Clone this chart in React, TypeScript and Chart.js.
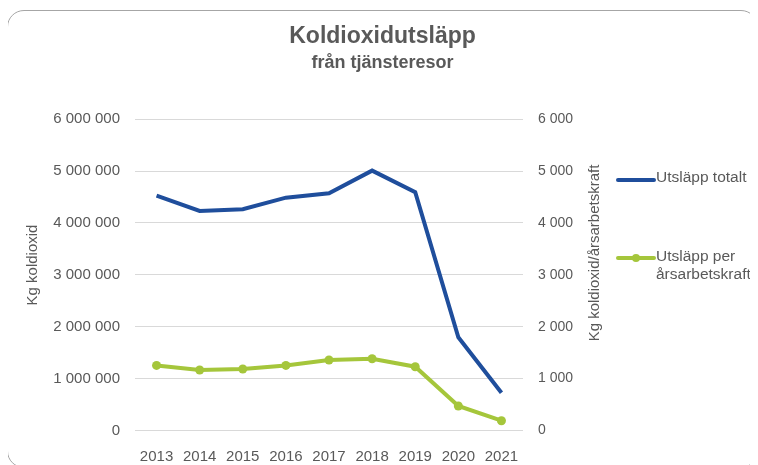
import React, { useEffect, useRef } from "react";
import { Chart, registerables } from "chart.js";

Chart.register(...registerables);

const years = ["2013", "2014", "2015", "2016", "2017", "2018", "2019", "2020", "2021"];
const totalEmissions = [4527000, 4232000, 4265000, 4488000, 4573000, 5009000, 4592000, 1797000, 729000];
const perWorker = [1255, 1166, 1185, 1255, 1358, 1384, 1229, 472, 189];

const titleText = "Koldioxidutsläpp";
const subtitleText = "från tjänsteresor";
const leftAxisTitle = "Kg koldioxid";
const rightAxisTitle = "Kg koldioxid/årsarbetskraft";
const legendTotal = "Utsläpp totalt";
const legendPer = ["Utsläpp per", "årsarbetskraft"];

const BLUE = "#1F4E9C";
const GREEN = "#A5C63B";
const TEXT = "#595959";
const FONT = "'Liberation Sans', Arial, sans-serif";

const fmt = (v: number | string) =>
  String(v).replace(/\B(?=(\d{3})+(?!\d))/g, " ");

const overlayPlugin = {
  id: "overlay",
  afterDraw(chart: any) {
    const ctx = chart.ctx;
    ctx.save();
    ctx.fillStyle = TEXT;
    ctx.font = `15px ${FONT}`;
    ctx.textAlign = "center";
    ctx.textBaseline = "middle";
    // left axis title
    ctx.save();
    ctx.translate(25, 254);
    ctx.rotate(-Math.PI / 2);
    ctx.fillText(leftAxisTitle, 0, 0);
    ctx.restore();
    // right axis title
    ctx.save();
    ctx.translate(587, 242);
    ctx.rotate(-Math.PI / 2);
    ctx.fillText(rightAxisTitle, 0, 0);
    ctx.restore();

    // legend
    ctx.lineCap = "round";
    ctx.lineWidth = 4;
    ctx.strokeStyle = BLUE;
    ctx.beginPath();
    ctx.moveTo(610, 169);
    ctx.lineTo(646, 169);
    ctx.stroke();
    ctx.strokeStyle = GREEN;
    ctx.beginPath();
    ctx.moveTo(610, 247);
    ctx.lineTo(646, 247);
    ctx.stroke();
    ctx.fillStyle = GREEN;
    ctx.beginPath();
    ctx.arc(628, 247, 4, 0, Math.PI * 2);
    ctx.fill();

    ctx.fillStyle = TEXT;
    ctx.textAlign = "left";
    ctx.font = `15.5px ${FONT}`;
    ctx.fillText(legendTotal, 648, 167);
    ctx.fillText(legendPer[0], 648, 246);
    ctx.fillText(legendPer[1], 648, 264);
    ctx.restore();
  },
};

export default function App() {
  const canvasRef = useRef<HTMLCanvasElement | null>(null);

  useEffect(() => {
    if (!canvasRef.current) return;
    const chart = new Chart(canvasRef.current, {
      type: "line",
      data: {
        labels: years,
        datasets: [
          {
            label: legendTotal,
            data: totalEmissions,
            borderColor: BLUE,
            backgroundColor: BLUE,
            borderWidth: 4,
            pointRadius: 0,
            tension: 0,
            yAxisID: "y",
          },
          {
            label: legendPer.join(" "),
            data: perWorker,
            borderColor: GREEN,
            backgroundColor: GREEN,
            borderWidth: 4,
            pointRadius: 4.5,
            pointBorderWidth: 0,
            tension: 0,
            yAxisID: "y2",
          },
        ],
      },
      options: {
        animation: false,
        responsive: false,
        maintainAspectRatio: false,
        layout: { padding: 0 },
        plugins: {
          legend: { display: false },
          tooltip: { enabled: false },
          title: {
            display: true,
            text: titleText,
            color: TEXT,
            font: { family: FONT, size: 23, weight: "bold" },
            padding: { top: 12, bottom: 2 },
          },
          subtitle: {
            display: true,
            text: subtitleText,
            color: TEXT,
            font: { family: FONT, size: 18, weight: "bold" },
            padding: { top: 0, bottom: 45 },
          },
        },
        scales: {
          x: {
            offset: true,
            grid: { display: false },
            border: { display: false },
            ticks: {
              color: TEXT,
              font: { family: FONT, size: 15 },
              padding: 9,
              maxRotation: 0,
            },
            afterFit: (s: any) => {
              s.height = 36.5;
            },
          },
          y: {
            position: "left",
            min: 0,
            max: 6000000,
            grid: { color: "#D9D9D9", lineWidth: 1, drawTicks: false },
            border: { display: false },
            ticks: {
              stepSize: 1000000,
              color: TEXT,
              font: { family: FONT, size: 15 },
              padding: 15,
              callback: (v: any) => fmt(v),
            },
            afterFit: (s: any) => {
              s.width = 127;
            },
          },
          y2: {
            position: "right",
            min: 0,
            max: 6000,
            grid: { display: false, drawTicks: false },
            border: { display: false },
            ticks: {
              stepSize: 1000,
              color: TEXT,
              font: { family: FONT, size: 14 },
              padding: 15,
              callback: (v: any) => fmt(v),
            },
            afterFit: (s: any) => {
              s.width = 234;
            },
          },
        },
      },
      plugins: [overlayPlugin],
    });
    return () => chart.destroy();
  }, []);

  return (
    <div
      style={{
        position: "relative",
        marginLeft: -1,
        marginTop: 2,
        width: 751,
        height: 458,
        boxSizing: "border-box",
        border: "1px solid #A6A6A6",
        borderRadius: 17,
        background: "#fff",
        overflow: "hidden",
      }}
    >
      <canvas ref={canvasRef} width={749} height={456} style={{ display: "block" }} />
    </div>
  );
}
